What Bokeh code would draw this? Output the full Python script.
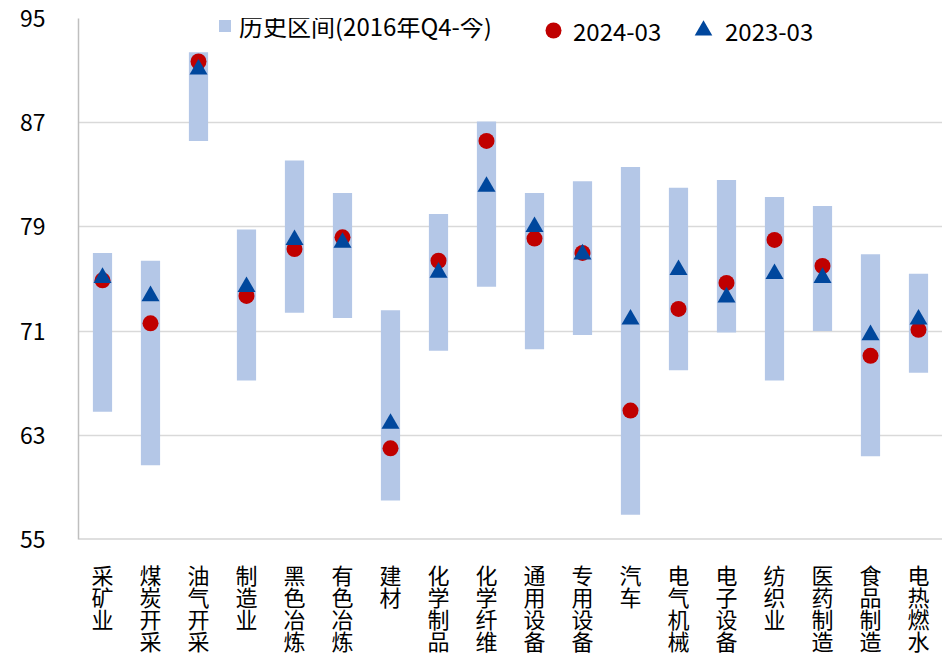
from bokeh.plotting import figure
from bokeh.models import FixedTicker, Range1d, ColumnDataSource, Span, Legend, LegendItem
from bokeh.layouts import column
from bokeh.core.properties import value
from bokeh.embed import file_html
from bokeh.resources import INLINE

categories = ["采矿业", "煤炭开采", "油气开采", "制造业", "黑色冶炼", "有色冶炼", "建材",
              "化学制品", "化学纤维", "通用设备", "专用设备", "汽车", "电气机械", "电子设备",
              "纺织业", "医药制造", "食品制造", "电热燃水"]
hist_low = [64.8, 60.7, 85.6, 67.2, 72.4, 72.0, 58.0, 69.5, 74.4, 69.6, 70.7, 56.9,
            68.0, 70.9, 67.2, 71.0, 61.4, 67.8]
hist_high = [77.0, 76.4, 92.4, 78.8, 84.1, 81.6, 72.6, 80.0, 87.1, 81.6, 82.5, 83.6,
             82.0, 82.6, 81.3, 80.6, 76.9, 75.4]
val_2024 = [74.9, 71.6, 91.7, 73.7, 77.3, 78.2, 62.0, 76.4, 85.6, 78.1, 77.0, 64.9,
            72.7, 74.7, 78.0, 76.0, 69.1, 71.1]
val_2023 = [75.1, 73.7, 91.1, 74.4, 78.0, 77.8, 63.9, 75.5, 82.1, 79.0, 76.9, 71.9,
            75.7, 73.6, 75.4, 75.1, 70.7, 71.9]
y_ticks = [55, 63, 71, 79, 87, 95]
series_names = ["历史区间(2016年Q4-今)", "2024-03", "2023-03"]

FONT = "Noto Sans CJK SC"
W = 942
TOP, FRAME_H, BOTTOM = 18, 521, 16
xs = list(range(len(categories)))
src = ColumnDataSource(dict(x=xs, low=hist_low, high=hist_high, v24=val_2024, v23=val_2023))

p = figure(width=W, height=TOP + FRAME_H + BOTTOM, output_backend="svg", toolbar_location=None,
           x_range=Range1d(-0.5, len(categories) - 0.5),
           y_range=Range1d(y_ticks[0], y_ticks[-1]), x_axis_location=None,
           min_border_left=78, min_border_right=0, min_border_top=TOP, min_border_bottom=BOTTOM)
p.outline_line_color = None

r_bar = p.vbar(x="x", bottom="low", top="high", width=0.4, source=src, fill_color="#b4c7e7",
               line_color=None)
r_24 = p.scatter(x="x", y="v24", source=src, marker="circle", size=16, fill_color="#c00000",
                 line_color=None)
r_23 = p.scatter(x="x", y="v23", source=src, marker="triangle", size=18, fill_color="#00479d",
                 line_color=None)

# bottom axis line
p.add_layout(Span(location=y_ticks[0], dimension="width", line_color="#bfbfbf", line_width=2))

p.yaxis.ticker = FixedTicker(ticks=y_ticks)
p.yaxis.major_label_text_font = FONT
p.yaxis.major_label_text_font_size = "23px"
p.yaxis.major_label_text_color = "#000000"
p.yaxis.major_label_standoff = 27
p.yaxis.major_tick_line_color = None
p.yaxis.minor_tick_line_color = None
p.yaxis.axis_line_color = "#bfbfbf"
p.yaxis.axis_line_width = 1.5

p.xgrid.grid_line_color = None
p.ygrid.grid_line_color = "#d9d9d9"
p.ygrid.grid_line_width = 1.5

# legend: one Legend per entry so each keeps its own glyph size
PAD = 8
def add_legend(label, rend, x, y_bottom, glyph, label_h, standoff):
    lg = Legend(items=[LegendItem(label=label, renderers=[rend])],
                location=(x, y_bottom + 1), orientation="horizontal",
                margin=0, padding=PAD, glyph_width=glyph, glyph_height=glyph,
                label_height=label_h, label_standoff=standoff, label_text_font=FONT,
                label_text_font_size="24px", label_text_color="#000000",
                background_fill_alpha=0, border_line_color=None)
    p.add_layout(lg)

add_legend(series_names[0], r_bar, 139, 495.5, 15, 20, 7)
add_legend(series_names[1], r_24, 455, FRAME_H - 13 - 20, 40, 40, 0)
add_legend(series_names[2], r_23, 603, FRAME_H - 13 - 22, 44, 44, 0)

# category labels: vertical text, one character per row, below the plot
ROW = 22
LH = 100
ch_x, ch_y, ch_t = [], [], []
for i, cat in enumerate(categories):
    for j, ch in enumerate(cat):
        ch_x.append(i)
        ch_y.append(34.5 - BOTTOM + ROW * j)
        ch_t.append(ch)
lab_src = ColumnDataSource(dict(x=ch_x, y=ch_y, t=ch_t))

p2 = figure(width=W, height=LH, output_backend="svg", toolbar_location=None,
            x_range=p.x_range, y_range=Range1d(LH, 0),
            x_axis_location=None, y_axis_location=None,
            min_border_left=78, min_border_right=0, min_border_top=0, min_border_bottom=0)
p2.outline_line_color = None
p2.grid.grid_line_color = None
p2.text(x="x", y="y", text="t", source=lab_src, text_align="center", text_baseline="middle",
        text_font=value(FONT), text_font_size="22px", text_color="#000000")

layout = column(p, p2, spacing=0)
open("out.html", "w").write(file_html(layout, INLINE))
